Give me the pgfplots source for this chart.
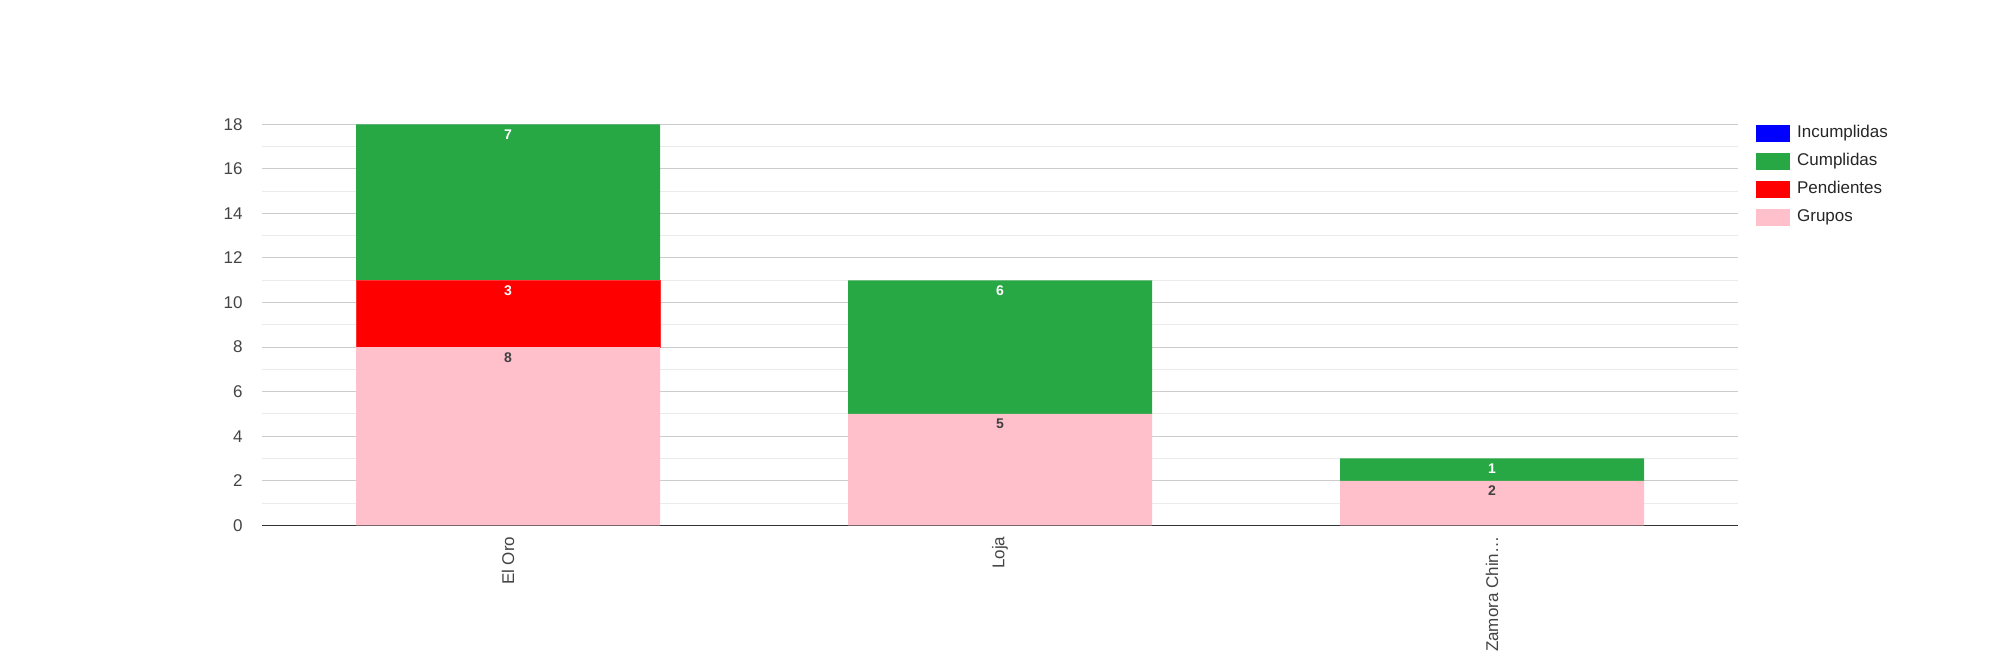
\documentclass[border=0pt]{standalone}
\usepackage{pgfplots}
\pgfplotsset{compat=1.18}
\usepackage{fontspec}
\setmainfont{Liberation Sans}
\definecolor{cgreen}{HTML}{28A745}
\definecolor{cpink}{HTML}{FFC0CB}
\definecolor{ctick}{HTML}{444444}
\definecolor{cdark}{HTML}{404040}
\begin{document}
\begin{tikzpicture}
\useasboundingbox (0,0) rectangle (1000pt,325pt);
\begin{axis}[
  at={(131pt,62.35pt)}, anchor=south west,
  scale only axis, width=738pt, height=200.5pt,
  ybar stacked, bar width=152pt,
  xmin=-0.5, xmax=2.5, ymin=0, ymax=18,
  xtick={0,1,2}, xticklabels={El Oro,Loja,Zamora Chin…},
  x tick label style={rotate=90, anchor=east, inner sep=0pt, font=\fontsize{8.5}{10}\selectfont, text=ctick},
  ytick={0,2,...,18}, minor y tick num=1,
  y tick label style={inner sep=0pt, font=\fontsize{8.5}{10}\selectfont, text=ctick},
  /pgf/number format/assume math mode=true,
  ymajorgrids, yminorgrids,
  major grid style={color=black!20, line width=0.5pt},
  minor grid style={color=black!8, line width=0.5pt},
  axis lines*=left,
  y axis line style={draw=none},
  x axis line style={color=black!80, line width=0.5pt, -},
  major tick length=0pt, minor tick length=0pt,
  xticklabel shift=5.5pt, yticklabel shift=9.5pt,
  point meta=explicit symbolic,
  nodes near coords={\ifnum\pgfplotspointmeta>0 \pgfplotspointmeta\fi},
  every node near coord/.append style={anchor=north, inner sep=0pt,
     yshift={\pgfplotspointmeta*5.5694pt-2.5pt},
     font=\bfseries\fontsize{7}{8}\selectfont, text=white},
  reverse legend,
  legend style={at={(1.012,1.0)}, anchor=north west, draw=none, fill=none,
    inner sep=0pt, row sep=5.5pt, font=\fontsize{8.5}{10}\selectfont, text=black!85,
    nodes={inner sep=0pt, anchor=west, text height=6.5pt, text depth=2pt}},
  legend cell align=left,
  legend image code/.code={\fill[#1, draw=none] (0pt,-4.25pt) rectangle (17pt,4.25pt);},
  /tikz/every odd column/.append style={column sep=3.5pt},
]
\addplot[fill=cpink, draw=none, every node near coord/.append style={text=cdark}] coordinates {(0,8) [8] (1,5) [5] (2,2) [2]};
\addlegendentry{Grupos}
\addplot[fill=red, draw=red!80, line width=0.4pt] coordinates {(0,3) [3] (1,0) [0] (2,0) [0]};
\addlegendentry{Pendientes}
\addplot[fill=cgreen, draw=none] coordinates {(0,7) [7] (1,6) [6] (2,1) [1]};
\addlegendentry{Cumplidas}
\addplot[fill=blue, draw=blue!60, line width=0.5pt] coordinates {(0,0) [0] (1,0) [0] (2,0) [0]};
\addlegendentry{Incumplidas}
\end{axis}
\end{tikzpicture}
\end{document}
